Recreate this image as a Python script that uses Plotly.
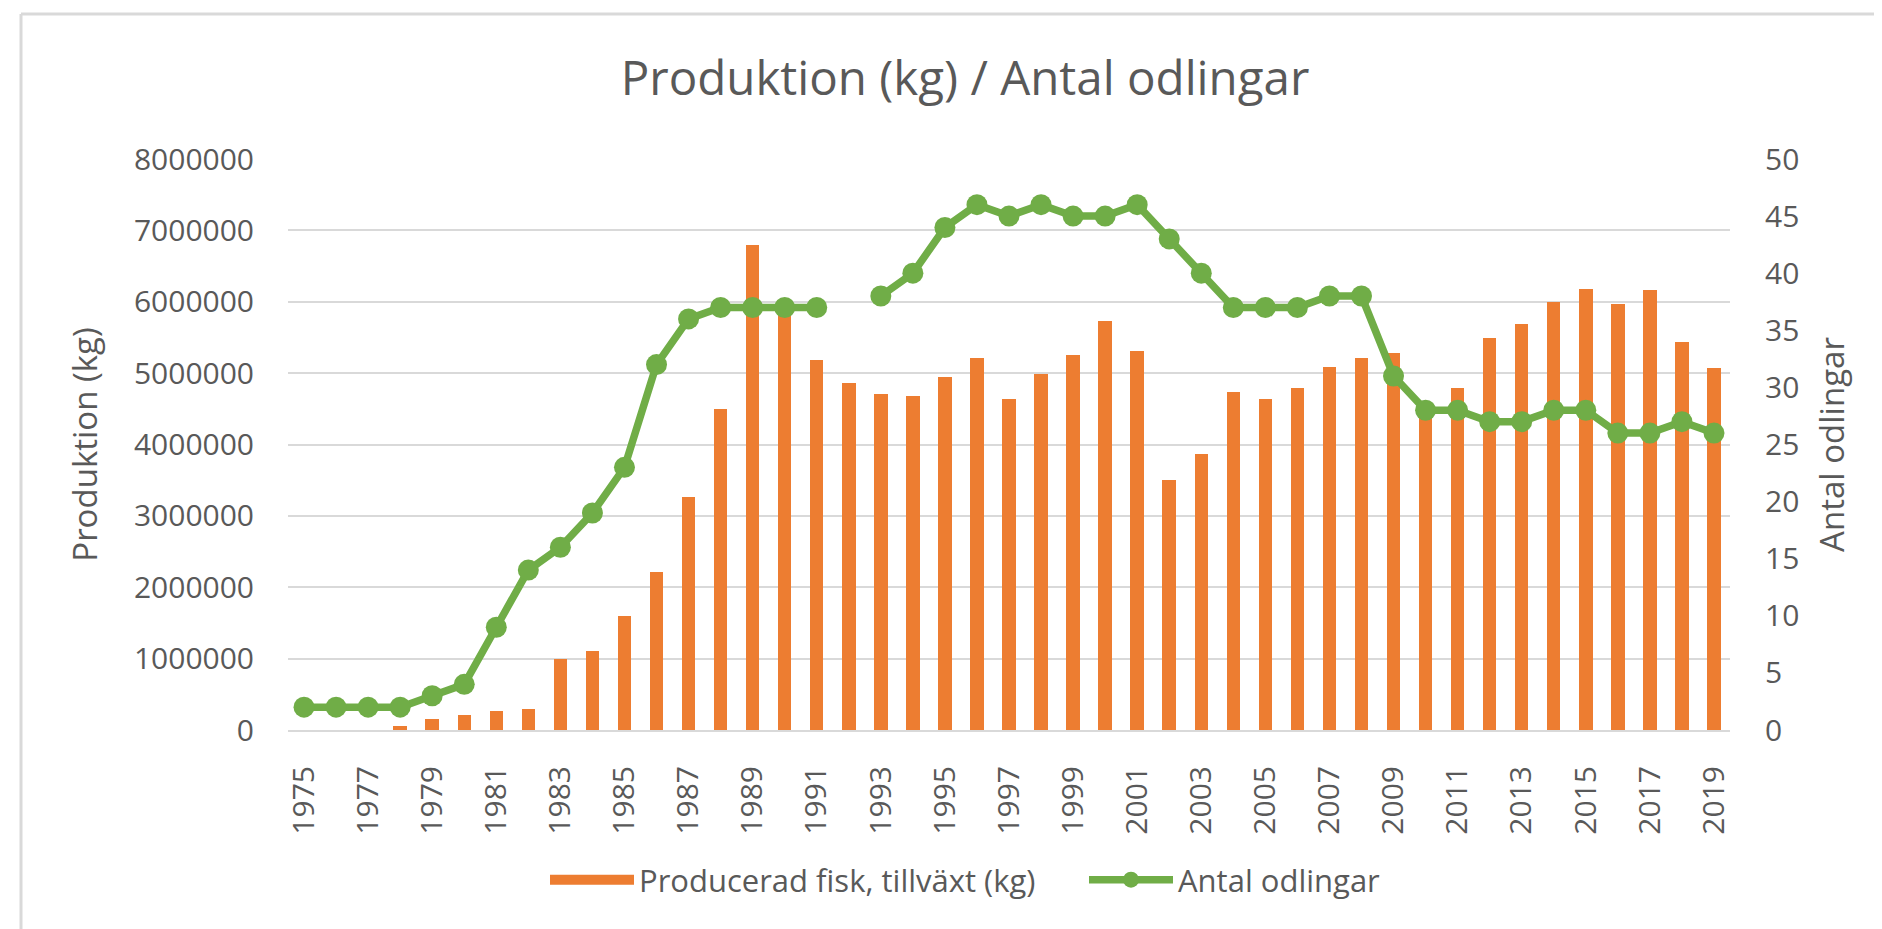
import plotly.graph_objects as go

years = list(range(1975, 2020))

produktion_kg = [
    0, 0, 0, 55000, 160000, 210000, 265000, 293000, 1000000, 1105000,
    1602000, 2210000, 3260000, 4497000, 6790000, 5900000, 5177000, 4867000, 4707000, 4680000,
    4945000, 5210000, 4635000, 4994000, 5260000, 5735000, 5309000, 3497000, 3862000, 4735000,
    4635000, 4790000, 5080000, 5210000, 5287000, 4450000, 4790000, 5497000, 5685000, 6000000,
    6182000, 5972000, 6160000, 5442000, 5077000,
]

antal_odlingar = [
    2, 2, 2, 2, 3, 4, 9, 14, 16, 19,
    23, 32, 36, 37, 37, 37, 37, None, 38, 40,
    44, 46, 45, 46, 45, 45, 46, 43, 40, 37,
    37, 37, 38, 38, 31, 28, 28, 27, 27, 28,
    28, 26, 26, 27, 26,
]

tick_years = list(range(1975, 2020, 2))

title_text = "Produktion (kg) / Antal odlingar"
bar_name = "Producerad fisk, tillväxt (kg)"
line_name = "Antal odlingar"
y1_title = "Produktion (kg)"
y2_title = "Antal odlingar"

ORANGE = "#ED7D31"
GREEN = "#70AD47"
TEXT = "#595959"
GRID = "#D9D9D9"
FONT = "Open Sans"

fig = go.Figure()
fig.add_trace(go.Bar(
    x=years, y=produktion_kg, name=bar_name,
    marker=dict(color=ORANGE, line=dict(width=0)),
    width=0.42, yaxis="y", showlegend=False, legendgroup="bar",
))
# legend swatch for the bar series (wide rectangle like the original)
fig.add_trace(go.Scatter(
    x=[None], y=[None], name=bar_name, mode="lines",
    line=dict(color=ORANGE, width=18), legendgroup="bar", yaxis="y",
))
fig.add_trace(go.Scatter(
    x=years, y=antal_odlingar, name=line_name, mode="lines+markers",
    line=dict(color=GREEN, width=7.5), marker=dict(color=GREEN, size=21),
    connectgaps=False, yaxis="y2",
))

L, R, T, B = 280, 1722, 151, 722
W, H = 1882, 929

def px2x(px):
    return (px - L) / (R - L)

def py2y(py):
    return (B - py) / (B - T)

fig.update_layout(
    width=W, height=H,
    margin=dict(l=L, r=W - R, t=T, b=H - B, pad=0),
    paper_bgcolor="white", plot_bgcolor="white",
    font=dict(family=FONT, color=TEXT, size=30),
    title=dict(text=title_text, font=dict(size=47.5, color=TEXT, family=FONT),
               x=957 / W, xanchor="center", y=1 - 70 / H, yanchor="middle",
               xref="container", yref="container"),
    xaxis=dict(
        range=[1974.5, 2019.5], tickmode="array", tickvals=tick_years,
        ticktext=[str(y) for y in tick_years], tickangle=-90,
        showgrid=False, zeroline=False, showline=True, linecolor=GRID, linewidth=2,
        ticks="", tickfont=dict(size=30, color=TEXT), ticklabelstandoff=22,
    ),
    yaxis=dict(
        range=[0, 8000000], dtick=1000000, tickformat="d",
        showgrid=True, gridcolor=GRID, gridwidth=2, zeroline=False,
        showline=False, ticks="", tickfont=dict(size=30, color=TEXT),
        ticklabelstandoff=33,
        title=dict(text=y1_title, font=dict(size=33, color=TEXT), standoff=26),
    ),
    yaxis2=dict(
        range=[0, 50], dtick=5, overlaying="y", side="right",
        showgrid=False, zeroline=False, showline=False, ticks="",
        tickfont=dict(size=30, color=TEXT), ticklabelstandoff=34,
        title=dict(text=y2_title, font=dict(size=33, color=TEXT), standoff=22),
    ),
    legend=dict(
        orientation="h", x=px2x(537), xanchor="left", y=py2y(872), yanchor="middle",
        font=dict(size=31, color=TEXT), bgcolor="rgba(0,0,0,0)",
        itemwidth=84, traceorder="normal",
        entrywidth=440, entrywidthmode="pixels",
    ),
    showlegend=True,
    bargap=0,
)

fig.add_shape(type="line", xref="paper", yref="paper",
              x0=px2x(13), x1=px2x(13), y0=py2y(6), y1=py2y(940),
              line=dict(color=GRID, width=3))
fig.add_shape(type="line", xref="paper", yref="paper",
              x0=px2x(13), x1=px2x(1890), y0=py2y(6), y1=py2y(6),
              line=dict(color=GRID, width=3))

fig.write_html("out.html")
